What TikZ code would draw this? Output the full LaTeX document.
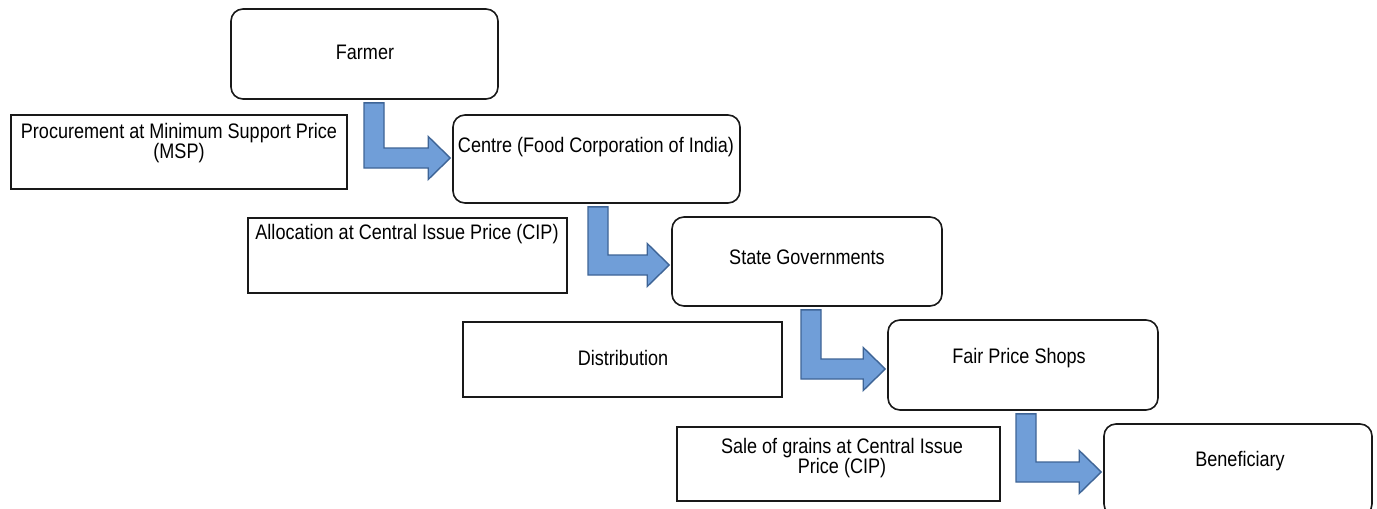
\documentclass[tikz,border=0pt]{standalone}
\usepackage{fontspec}
\setmainfont[FakeStretch=0.86]{Liberation Sans}
\usetikzlibrary{calc}
\definecolor{arrfill}{RGB}{112,158,216}
\definecolor{arrline}{RGB}{62,100,150}
\definecolor{boxline}{RGB}{25,25,25}
\tikzset{
  rbox/.style={draw=boxline, line width=1.6pt, rounded corners=12pt, fill=white, inner sep=0pt},
  sbox/.style={draw=boxline, line width=1.6pt, fill=white, inner sep=0pt},
  txt/.style={inner sep=0pt, align=center, font=\fontsize{21pt}{20pt}\selectfont},
  arrowfill/.style={fill=arrfill, draw=arrline, line width=1.4pt, line join=miter}
}
% bent block arrow from source node (down) to target node (right)
\newcommand\bentarrow[4]{%
  \path[arrowfill] let \p1=(#1.south), \p2=(#2.west) in
    ({\x1+(#3)*1pt},{\y1-3pt}) -- ({\x1+(#3)*1pt+20pt},{\y1-3pt})
    -- ({\x1+(#3)*1pt+20pt},{\y2+(#4)*1pt+10pt})
    -- ({\x2-24pt},{\y2+(#4)*1pt+10pt})
    -- ({\x2-24pt},{\y2+(#4)*1pt+21.5pt})
    -- ({\x2-2pt},{\y2+(#4)*1pt})
    -- ({\x2-24pt},{\y2+(#4)*1pt-21.5pt})
    -- ({\x2-24pt},{\y2+(#4)*1pt-10pt})
    -- ({\x1+(#3)*1pt},{\y2+(#4)*1pt-10pt}) -- cycle;}
\begin{document}
\begin{tikzpicture}[x=1pt,y=-1pt]
\useasboundingbox (0,0) rectangle (1377,509);
\clip (0,0) rectangle (1377,509);
\fill[white] (0,0) rectangle (1377,509);
% boxes
\node[rbox, minimum width=267pt, minimum height=90pt] (farmer) at (364.5,54) {};
\node[sbox, minimum width=336pt, minimum height=74pt] (proc) at (179,152) {};
\node[rbox, minimum width=287pt, minimum height=88pt] (centre) at (596.5,159) {};
\node[sbox, minimum width=319pt, minimum height=75pt] (alloc) at (407.5,255.5) {};
\node[rbox, minimum width=270pt, minimum height=89pt] (state) at (807,261.5) {};
\node[sbox, minimum width=319pt, minimum height=75pt] (distr) at (622.5,359.5) {};
\node[rbox, minimum width=270pt, minimum height=90pt] (fair) at (1023,365) {};
\node[sbox, minimum width=323pt, minimum height=74pt] (sale) at (838.5,464) {};
\node[rbox, minimum width=268pt, minimum height=92pt] (benef) at (1238,470) {};
% texts
\node[txt] (tfarmer) at (365,52) {Farmer};
\node[txt] (tproc) at (179,143) {Procurement at Minimum Support Price\\(MSP)};
\node[txt] (tcentre) at (596,147) {Centre (Food Corporation of India)};
\node[txt] (talloc) at (407,234) {Allocation at Central Issue Price (CIP)};
\node[txt] (tstate) at (807,257) {State Governments};
\node[txt] (tdistr) at (623,358) {Distribution};
\node[txt] (tfair) at (1019,358) {Fair Price Shops};
\node[txt] (tsale) at (842,458) {Sale of grains at Central Issue\\Price (CIP)};
\node[txt] (tbenef) at (1240,461) {Beneficiary};
% arrows
\bentarrow{farmer}{centre}{-0.5}{1}
\bentarrow{centre}{state}{-8.5}{-3.5}
\bentarrow{state}{fair}{-6}{-4}
\bentarrow{fair}{benef}{-7}{-2}
\end{tikzpicture}
\end{document}
